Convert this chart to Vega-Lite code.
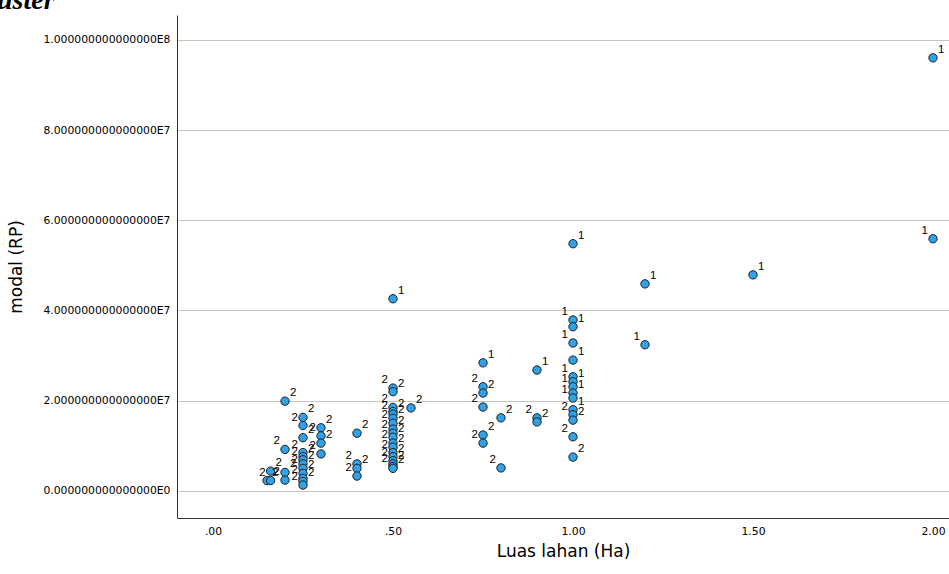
{
  "$schema": "https://vega.github.io/schema/vega-lite/v6.json",
  "width": 772,
  "height": 503,
  "autosize": {"type": "none"},
  "padding": {"left": 177, "top": 15, "right": 0, "bottom": 56},
  "background": "white",
  "usermeta": {"embedOptions": {"actions": false}},
  "title": {
    "text": "uster",
    "anchor": "start",
    "frame": "group",
    "orient": "top",
    "dx": -180,
    "offset": -22,
    "baseline": "alphabetic",
    "font": "Liberation Serif",
    "fontStyle": "italic",
    "fontWeight": "bold",
    "fontSize": 28,
    "color": "#000000"
  },
  "data": {
    "values": [
      {"luas": 2.0, "modal": 96000000, "cluster": "1"},
      {"luas": 2.0, "modal": 55900000, "cluster": "1"},
      {"luas": 1.5, "modal": 47900000, "cluster": "1"},
      {"luas": 1.2, "modal": 45900000, "cluster": "1"},
      {"luas": 1.2, "modal": 32400000, "cluster": "1"},
      {"luas": 1.0, "modal": 54800000, "cluster": "1"},
      {"luas": 0.5, "modal": 42600000, "cluster": "1"},
      {"luas": 0.75, "modal": 28400000, "cluster": "1"},
      {"luas": 0.9, "modal": 26800000, "cluster": "1"},
      {"luas": 1.0, "modal": 37900000, "cluster": "1"},
      {"luas": 1.0, "modal": 36400000, "cluster": "1"},
      {"luas": 1.0, "modal": 32800000, "cluster": "1"},
      {"luas": 1.0, "modal": 29000000, "cluster": "1"},
      {"luas": 1.0, "modal": 25300000, "cluster": "1"},
      {"luas": 1.0, "modal": 24200000, "cluster": "1"},
      {"luas": 1.0, "modal": 23100000, "cluster": "1"},
      {"luas": 1.0, "modal": 21700000, "cluster": "1"},
      {"luas": 1.0, "modal": 20600000, "cluster": "1"},
      {"luas": 1.0, "modal": 18000000, "cluster": "1"},
      {"luas": 1.0, "modal": 16900000, "cluster": "2"},
      {"luas": 1.0, "modal": 15700000, "cluster": "2"},
      {"luas": 1.0, "modal": 12000000, "cluster": "2"},
      {"luas": 1.0, "modal": 7500000, "cluster": "2"},
      {"luas": 0.9, "modal": 16200000, "cluster": "2"},
      {"luas": 0.9, "modal": 15300000, "cluster": "2"},
      {"luas": 0.8, "modal": 16200000, "cluster": "2"},
      {"luas": 0.8, "modal": 5100000, "cluster": "2"},
      {"luas": 0.75, "modal": 23100000, "cluster": "2"},
      {"luas": 0.75, "modal": 21700000, "cluster": "2"},
      {"luas": 0.75, "modal": 18600000, "cluster": "2"},
      {"luas": 0.75, "modal": 12400000, "cluster": "2"},
      {"luas": 0.75, "modal": 10600000, "cluster": "2"},
      {"luas": 0.55, "modal": 18400000, "cluster": "2"},
      {"luas": 0.5, "modal": 22800000, "cluster": "2"},
      {"luas": 0.5, "modal": 22000000, "cluster": "2"},
      {"luas": 0.5, "modal": 18500000, "cluster": "2"},
      {"luas": 0.5, "modal": 17600000, "cluster": "2"},
      {"luas": 0.5, "modal": 17000000, "cluster": "2"},
      {"luas": 0.5, "modal": 16100000, "cluster": "2"},
      {"luas": 0.5, "modal": 15000000, "cluster": "2"},
      {"luas": 0.5, "modal": 13700000, "cluster": "2"},
      {"luas": 0.5, "modal": 12800000, "cluster": "2"},
      {"luas": 0.5, "modal": 11900000, "cluster": "2"},
      {"luas": 0.5, "modal": 10600000, "cluster": "2"},
      {"luas": 0.5, "modal": 9700000, "cluster": "2"},
      {"luas": 0.5, "modal": 8500000, "cluster": "2"},
      {"luas": 0.5, "modal": 7600000, "cluster": "2"},
      {"luas": 0.5, "modal": 6700000, "cluster": "2"},
      {"luas": 0.5, "modal": 6000000, "cluster": "2"},
      {"luas": 0.5, "modal": 5400000, "cluster": "2"},
      {"luas": 0.5, "modal": 5000000, "cluster": "2"},
      {"luas": 0.4, "modal": 12800000, "cluster": "2"},
      {"luas": 0.4, "modal": 6000000, "cluster": "2"},
      {"luas": 0.4, "modal": 5000000, "cluster": "2"},
      {"luas": 0.4, "modal": 3300000, "cluster": "2"},
      {"luas": 0.3, "modal": 14000000, "cluster": "2"},
      {"luas": 0.3, "modal": 12200000, "cluster": "2"},
      {"luas": 0.3, "modal": 10600000, "cluster": "2"},
      {"luas": 0.3, "modal": 8200000, "cluster": "2"},
      {"luas": 0.25, "modal": 16300000, "cluster": "2"},
      {"luas": 0.25, "modal": 14500000, "cluster": "2"},
      {"luas": 0.25, "modal": 11800000, "cluster": "2"},
      {"luas": 0.25, "modal": 8500000, "cluster": "2"},
      {"luas": 0.25, "modal": 7600000, "cluster": "2"},
      {"luas": 0.25, "modal": 6900000, "cluster": "2"},
      {"luas": 0.25, "modal": 6000000, "cluster": "2"},
      {"luas": 0.25, "modal": 5000000, "cluster": "2"},
      {"luas": 0.25, "modal": 3900000, "cluster": "2"},
      {"luas": 0.25, "modal": 2800000, "cluster": "2"},
      {"luas": 0.25, "modal": 2100000, "cluster": "2"},
      {"luas": 0.25, "modal": 1300000, "cluster": "2"},
      {"luas": 0.2, "modal": 19900000, "cluster": "2"},
      {"luas": 0.2, "modal": 9200000, "cluster": "2"},
      {"luas": 0.2, "modal": 4100000, "cluster": "2"},
      {"luas": 0.2, "modal": 2400000, "cluster": "2"},
      {"luas": 0.16, "modal": 4400000, "cluster": "2"},
      {"luas": 0.15, "modal": 2300000, "cluster": "2"},
      {"luas": 0.16, "modal": 2300000, "cluster": "2"}
    ]
  },
  "transform": [
    {"window": [{"op": "row_number", "as": "rank"}], "groupby": ["luas"], "sort": [{"field": "modal", "order": "descending"}]}
  ],
  "encoding": {
    "x": {
      "field": "luas",
      "type": "quantitative",
      "scale": {"domain": [-0.1, 2.0444], "nice": false, "zero": false},
      "axis": {
        "title": "Luas lahan (Ha)",
        "values": [0, 0.5, 1, 1.5, 2],
        "labelExpr": "datum.value < 1 ? substring(format(datum.value, '.2f'), 1) : format(datum.value, '.2f')",
        "grid": false,
        "ticks": false,
        "labelPadding": 7,
        "titlePadding": 8
      }
    },
    "y": {
      "field": "modal",
      "type": "quantitative",
      "scale": {"domain": [-6000000, 105500000], "nice": false, "zero": false},
      "axis": {
        "title": "modal (RP)",
        "values": [0, 20000000, 40000000, 60000000, 80000000, 100000000],
        "labelExpr": "datum.value == 0 ? '0.000000000000000E0' : (datum.value >= 100000000 ? format(datum.value / 100000000, '.15f') + 'E8' : format(datum.value / 10000000, '.15f') + 'E7')",
        "grid": true,
        "gridColor": "#c4c4c4",
        "gridWidth": 1,
        "ticks": false,
        "labelPadding": 7,
        "titlePadding": 17
      }
    }
  },
  "layer": [
    {
      "mark": {"type": "circle", "size": 70, "color": "#2fa2ea", "opacity": 1, "stroke": "#1e1e1e", "strokeWidth": 1}
    },
    {
      "transform": [{"filter": "datum.rank % 2 == 1"}],
      "mark": {"type": "text", "align": "left", "baseline": "bottom", "dx": 5, "dy": -3, "fontSize": 11.5, "font": "Liberation Sans", "color": "#000000"},
      "encoding": {"text": {"field": "cluster"}}
    },
    {
      "transform": [{"filter": "datum.rank % 2 == 0"}],
      "mark": {"type": "text", "align": "right", "baseline": "bottom", "dx": -5, "dy": -3, "fontSize": 11.5, "font": "Liberation Sans", "color": "#000000"},
      "encoding": {"text": {"field": "cluster"}}
    }
  ],
  "config": {
    "view": {"stroke": null},
    "axis": {
      "domainColor": "#333333",
      "domainWidth": 1,
      "labelFont": "DejaVu Sans",
      "labelFontSize": 10.8,
      "labelColor": "#000000",
      "titleFont": "DejaVu Sans",
      "titleFontSize": 17,
      "titleFontWeight": "normal",
      "titleColor": "#000000"
    }
  }
}
